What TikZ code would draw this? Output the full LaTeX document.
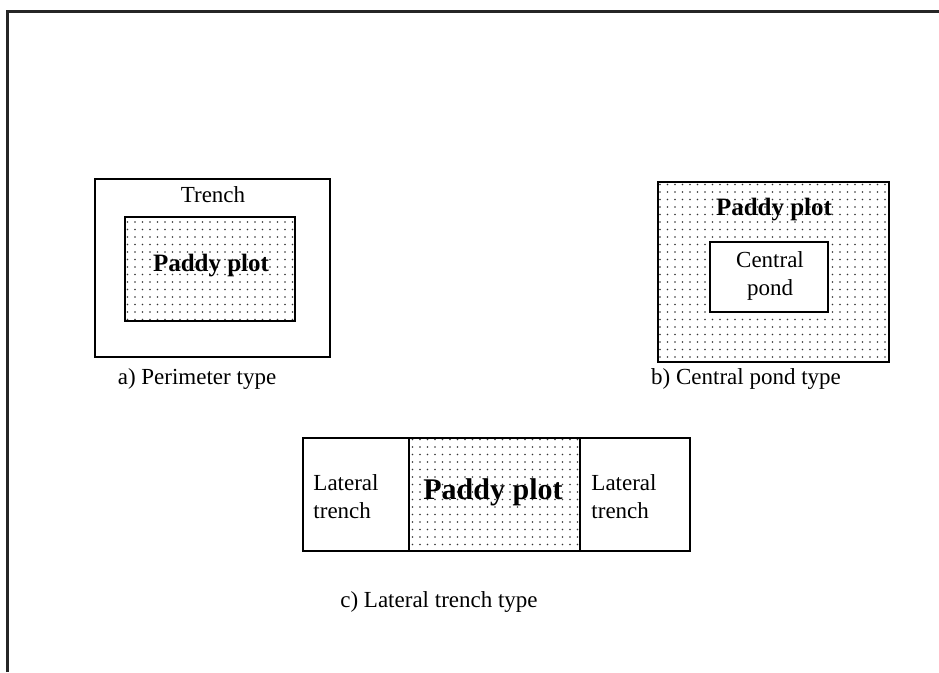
\documentclass[tikz,border=0pt]{standalone}
\usepackage{fontspec}
\setmainfont{Liberation Serif}
\usetikzlibrary{patterns.meta}
\begin{document}
\begin{tikzpicture}[x=1pt,y=-1pt,
  box/.style={draw=black,line width=2.4pt},
  dotfill/.style={pattern={Dots[distance=7.5pt,radius=0.8pt]},pattern color=black!80},
  lbl/.style={font=\fontsize{23}{28}\selectfont,inner sep=0pt,align=center},
  boldlbl/.style={font=\fontsize{25}{27}\selectfont\bfseries,inner sep=0pt},
  captxt/.style={font=\fontsize{23}{25}\selectfont,inner sep=0pt}]
\useasboundingbox (0,0) rectangle (939,672);
% frame
\draw[line width=3pt,black!85] (7.5,672) -- (7.5,11) -- (939,11);
% a) perimeter type
\draw[box] (95,179) rectangle (330,357);
\draw[box,dotfill] (125,217) rectangle (295,321);
\node[lbl] (trench) at (213,195) {Trench};
\node[boldlbl] (pa) at (211,266) {Paddy plot};
\node[captxt] (capa) at (197,379) {a) Perimeter type};
% b) central pond type
\draw[box,dotfill] (658,182) rectangle (889,362);
\draw[box,fill=white] (710,242) rectangle (828,312);
\node[boldlbl] (pb) at (774,210) {Paddy plot};
\node[lbl] (pond) at (770,276) {Central\\pond};
\node[captxt] (capb) at (746,379) {b) Central pond type};
% c) lateral trench type
\draw[box,dotfill] (409,438) rectangle (580,551);
\draw[box] (303,438) rectangle (690,551);
\draw[box] (409,438) -- (409,551);
\draw[box] (580,438) -- (580,551);
\node[lbl,align=left] (lt1) at (346,497) {Lateral\\trench};
\node[boldlbl,font=\fontsize{30}{32}\selectfont\bfseries] (pc) at (493,492) {Paddy plot};
\node[lbl,align=left] (lt2) at (624,497) {Lateral\\trench};
\node[captxt] (capc) at (439,602) {c) Lateral trench type};
\end{tikzpicture}
\end{document}
